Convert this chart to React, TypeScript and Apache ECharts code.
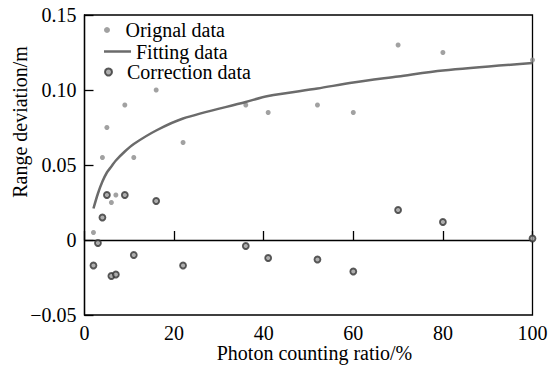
import React, { useEffect, useRef } from "react";
import * as echarts from "echarts";

const origX = [2, 4, 5, 6, 7, 9, 11, 16, 22, 36, 41, 52, 60, 70, 80, 100];
const origY = [0.005, 0.055, 0.075, 0.025, 0.03, 0.09, 0.055, 0.1, 0.065, 0.09, 0.085, 0.09, 0.085, 0.13, 0.125, 0.12];

const fitX = [2, 3, 4, 5, 6, 7, 9, 11, 16, 22, 36, 41, 52, 60, 70, 80, 100];
const fitY = [0.021, 0.031, 0.039, 0.045, 0.049, 0.053, 0.059, 0.064, 0.073, 0.081, 0.092, 0.096, 0.101, 0.105, 0.109, 0.113, 0.118];

const corrX = [2, 3, 4, 5, 6, 7, 9, 11, 16, 22, 36, 41, 52, 60, 70, 80, 100];
const corrY = [-0.017, -0.002, 0.015, 0.03, -0.024, -0.023, 0.03, -0.01, 0.026, -0.017, -0.004, -0.012, -0.013, -0.021, 0.02, 0.012, 0.001];

const seriesNames = ["Orignal data", "Fitting data", "Correction data"];
const xTitle = "Photon counting ratio/%";
const yTitle = "Range deviation/m";

const FONT = "Liberation Serif";

export default function App() {
  const ref = useRef<HTMLDivElement>(null);
  useEffect(() => {
    if (!ref.current) return;
    const chart = echarts.init(ref.current, undefined, { renderer: "svg" });
    const zip = (xs: number[], ys: number[]) => xs.map((x, i) => [x, ys[i]]);
    const legendText = { fontFamily: FONT, fontSize: 20, color: "#000", lineHeight: 20 };
    const legendBase = {
      left: 104,
      orient: "vertical",
      itemWidth: 27,
      itemHeight: 6,
      itemGap: 0,
      padding: 0,
      textStyle: legendText,
    };
    chart.setOption({
      animation: false,
      backgroundColor: "#ffffff",
      textStyle: { fontFamily: FONT },
      grid: {
        left: 84.5,
        right: 27.5,
        top: 15,
        bottom: 52,
        show: true,
        borderColor: "#000",
        borderWidth: 1.3,
        backgroundColor: "transparent",
      },
      legend: [
        { ...legendBase, top: 20, data: [{ name: seriesNames[0], icon: "circle" }] },
        {
          ...legendBase,
          top: 41.5,
          data: [{ name: seriesNames[1], icon: "path://M0,0 L27,0 L27,2.5 L0,2.5 Z" }],
        },
        { ...legendBase, top: 62, itemHeight: 7, data: [{ name: seriesNames[2], icon: "circle" }] },
      ],
      xAxis: {
        type: "value",
        min: 0,
        max: 100,
        interval: 20,
        axisLine: { lineStyle: { color: "#000", width: 1.3 } },
        axisTick: { inside: true, length: 9, lineStyle: { color: "#000", width: 1.3 } },
        axisLabel: { margin: 8, fontFamily: FONT, fontSize: 20, color: "#000" },
        splitLine: { show: false },
      },
      yAxis: {
        type: "value",
        min: -0.05,
        max: 0.15,
        interval: 0.05,
        axisLine: { show: true, lineStyle: { color: "#000", width: 1.3 } },
        axisTick: { show: true, inside: true, length: 9, lineStyle: { color: "#000", width: 1.3 } },
        axisLabel: {
          margin: 8,
          fontFamily: FONT,
          fontSize: 20,
          color: "#000",
          formatter: (v: number) => {
            const r = Math.round(v * 100) / 100;
            if (r === 0) return "0";
            const s = Math.abs(r).toFixed(2);
            return r < 0 ? "\u2212" + s : s;
          },
        },
        splitLine: { show: false },
      },
      series: [
        {
          name: seriesNames[0],
          type: "scatter",
          data: zip(origX, origY),
          symbol: "circle",
          symbolSize: 5,
          itemStyle: { color: "#8a8a8a" },
          z: 2,
        },
        {
          name: seriesNames[1],
          type: "line",
          data: zip(fitX, fitY),
          symbol: "none",
          smooth: 0.3,
          lineStyle: { color: "#6b6b6b", width: 2.5 },
          itemStyle: { color: "#6b6b6b" },
          z: 3,
        },
        {
          name: seriesNames[2],
          type: "scatter",
          data: zip(corrX, corrY),
          symbol: "circle",
          symbolSize: 6,
          itemStyle: { color: "#9a9a9a", borderColor: "#333", borderWidth: 1.8 },
          z: 4,
        },
      ],
      graphic: [
        {
          type: "text",
          x: 20,
          y: 122,
          rotation: Math.PI / 2,
          style: {
            text: yTitle,
            fontFamily: FONT,
            fontSize: 20,
            fill: "#000",
            textAlign: "center",
            textVerticalAlign: "middle",
          },
        },
        {
          type: "text",
          x: 314.5,
          y: 353,
          style: {
            text: xTitle,
            fontFamily: FONT,
            fontSize: 20,
            fill: "#000",
            textAlign: "center",
            textVerticalAlign: "middle",
          },
        },
      ],
    });
    return () => chart.dispose();
  }, []);
  return (
    <div
      ref={ref}
      style={{ position: "fixed", left: 0, top: 0, width: 560, height: 367, background: "#fff" }}
    />
  );
}
